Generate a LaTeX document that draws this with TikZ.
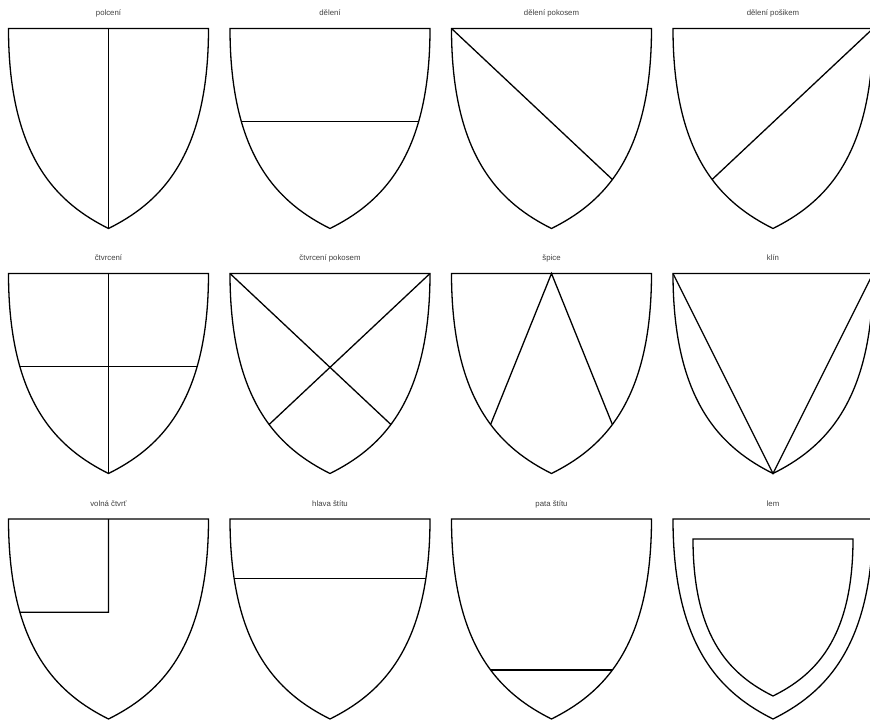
\documentclass[tikz,border=0pt]{standalone}
\usepackage{fontspec}
\usepackage{tikz}
\newfontfamily\labelfont{Liberation Sans}

% shield outline with points on its sides
\newcommand{\shield}[1]{%
  \draw[outline] (0,0) coordinate (#1-tl) -- (200,0) coordinate (#1-tr)
    .. controls (200,130) and (150,175) ..
       coordinate[pos=0.17] (#1-r1) coordinate[pos=0.29] (#1-r2) coordinate[pos=0.567] (#1-r3)
    (100,200) coordinate (#1-b)
    .. controls (50,175) and (0,130) ..
       coordinate[pos=0.433] (#1-l3) coordinate[pos=0.71] (#1-l2) coordinate[pos=0.83] (#1-l1)
    (0,0) -- cycle;
  \coordinate (#1-t) at (100,0);
  \coordinate (#1-c) at (100,93.3);
}

\begin{document}
\begin{tikzpicture}[
  x=1pt, y=-1pt,
  outline/.style={draw=black, line width=1.3pt, line join=miter},
  division/.style={draw=black, line width=1.3pt},
  caption/.style={font=\labelfont\fontsize{7.8}{9}\selectfont, text=black!75, inner sep=0pt, anchor=base}
]
\useasboundingbox (0,0) rectangle (870,722);

% first row
\begin{scope}[shift={(8.5,28.5)}]
  \shield{polceni}
  \node[caption] (lbl-polceni) at (100,-13) {polcení};
\end{scope}
\draw[division] (polceni-t) -- (polceni-b);

\begin{scope}[shift={(230,28.5)}]
  \shield{deleni}
  \node[caption] (lbl-deleni) at (100,-13) {dělení};
\end{scope}
\draw[division] (deleni-l2) -- (deleni-r2);

\begin{scope}[shift={(451.5,28.5)}]
  \shield{pokosem}
  \node[caption] (lbl-pokosem) at (100,-13) {dělení pokosem};
\end{scope}
\draw[division] (pokosem-tl) -- (pokosem-r3);

\begin{scope}[shift={(673,28.5)}]
  \shield{posikem}
  \node[caption] (lbl-posikem) at (100,-13) {dělení pošikem};
\end{scope}
\draw[division] (posikem-tr) -- (posikem-l3);

% second row
\begin{scope}[shift={(8.5,273.5)}]
  \shield{ctvr}
  \node[caption] (lbl-ctvr) at (100,-13) {čtvrcení};
\end{scope}
\draw[division] (ctvr-t) -- (ctvr-b);
\draw[division] (ctvr-l2) -- (ctvr-r2);

\begin{scope}[shift={(230,273.5)}]
  \shield{ctvrpok}
  \node[caption] (lbl-ctvrpok) at (100,-13) {čtvrcení pokosem};
\end{scope}
\draw[division] (ctvrpok-tl) -- (ctvrpok-r3);
\draw[division] (ctvrpok-tr) -- (ctvrpok-l3);

\begin{scope}[shift={(451.5,273.5)}]
  \shield{spice}
  \node[caption] (lbl-spice) at (100,-13) {špice};
\end{scope}
\draw[division] (spice-l3) -- (spice-t) -- (spice-r3);

\begin{scope}[shift={(673,273.5)}]
  \shield{klin}
  \node[caption] (lbl-klin) at (100,-13) {klín};
\end{scope}
\draw[division] (klin-tl) -- (klin-b) -- (klin-tr);

% third row
\begin{scope}[shift={(8.5,519)}]
  \shield{ctvrt}
  \node[caption] (lbl-ctvrt) at (100,-13) {volná čtvrť};
\end{scope}
\draw[division] (ctvrt-t) -- (ctvrt-c) -- (ctvrt-l2);

\begin{scope}[shift={(230,519)}]
  \shield{hlava}
  \node[caption] (lbl-hlava) at (100,-13) {hlava štítu};
\end{scope}
\draw[division] (hlava-l1) -- (hlava-r1);

\begin{scope}[shift={(451.5,519)}]
  \shield{pata}
  \node[caption] (lbl-pata) at (100,-13) {pata štítu};
\end{scope}
\draw[division] (pata-l3) -- (pata-r3);

\begin{scope}[shift={(673,519)}]
  \shield{lem}
  \node[caption] (lbl-lem) at (100,-13) {lem};
  \draw[outline] (20,20) -- (180,20)
    .. controls (180,122) and (140,157) .. (100,177)
    .. controls (60,157) and (20,122) .. (20,20) -- cycle;
\end{scope}
\end{tikzpicture}
\end{document}
